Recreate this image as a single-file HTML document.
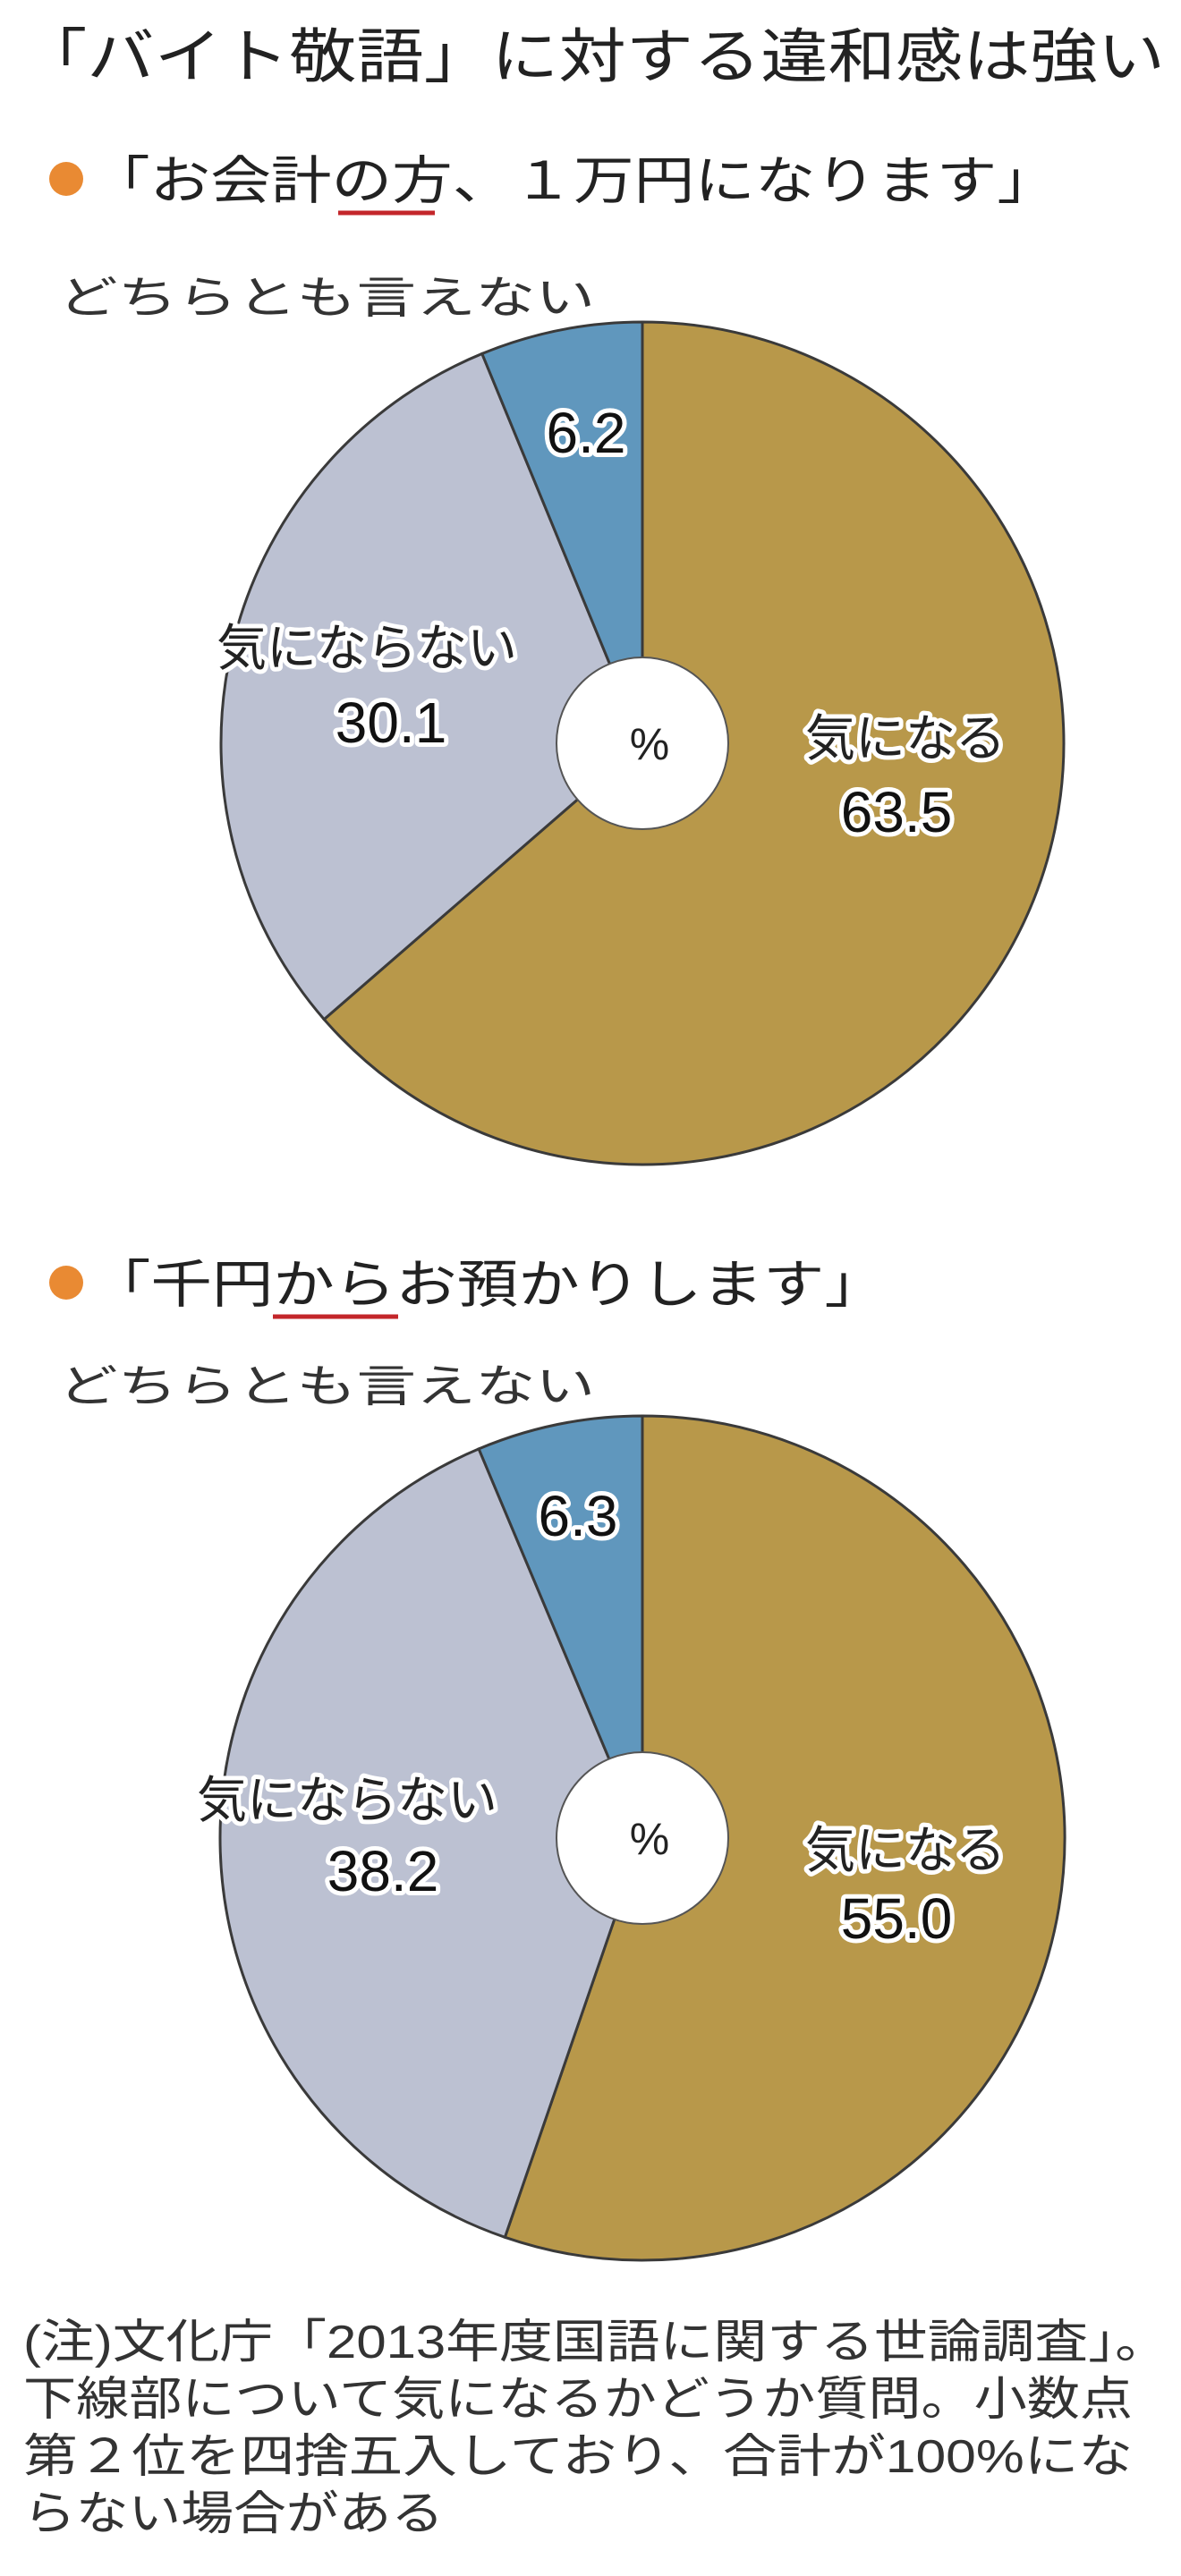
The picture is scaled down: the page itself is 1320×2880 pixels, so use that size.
<!DOCTYPE html>
<html lang="ja"><head><meta charset="utf-8">
<style>
html,body{margin:0;padding:0;background:#fff;}
svg{display:block;}
text{font-family:"Liberation Sans","Noto Sans CJK JP",sans-serif;}
.halo{paint-order:stroke;stroke:#fff;stroke-width:10px;stroke-linejoin:round;}
</style></head>
<body>
<svg id="chart" width="1320" height="2880" viewBox="0 0 1320 2880" xmlns="http://www.w3.org/2000/svg">
  <text x="22" y="86" font-size="66" textLength="1280" lengthAdjust="spacingAndGlyphs" fill="#222">「バイト敬語」に対する違和感は強い</text>

  <circle cx="74" cy="200" r="19" fill="#e98a33"/>
  <text x="100" y="222" font-size="58" textLength="1082" lengthAdjust="spacingAndGlyphs" fill="#222">「お会計の方、１万円になります」</text>
  <line x1="378" y1="238" x2="486" y2="238" stroke="#c3262a" stroke-width="5"/>
  <text x="65" y="350" font-size="50" textLength="600" lengthAdjust="spacingAndGlyphs" fill="#333">どちらとも言えない</text>

  <circle cx="74" cy="1434" r="19" fill="#e98a33"/>
  <text x="100" y="1456" font-size="58" textLength="890" lengthAdjust="spacingAndGlyphs" fill="#222">「千円からお預かりします」</text>
  <line x1="305" y1="1472" x2="445" y2="1472" stroke="#c3262a" stroke-width="5"/>
  <text x="65" y="1567" font-size="50" textLength="600" lengthAdjust="spacingAndGlyphs" fill="#333">どちらとも言えない</text>

  <g id="pie1"></g>
  <g id="pie2"></g>

  <g font-size="52" fill="#333">
    <text x="26" y="2636" textLength="1280" lengthAdjust="spacingAndGlyphs">(注)文化庁「2013年度国語に関する世論調査」。</text>
    <text x="26" y="2700" textLength="1240" lengthAdjust="spacingAndGlyphs">下線部について気になるかどうか質問。小数点</text>
    <text x="26" y="2764" textLength="1240" lengthAdjust="spacingAndGlyphs">第２位を四捨五入しており、合計が100%にな</text>
    <text x="26" y="2828" textLength="470" lengthAdjust="spacingAndGlyphs">らない場合がある</text>
  </g>
</svg>
<script>
const categories = ["気になる", "気にならない", "どちらとも言えない"];
const pie1Values = [63.5, 30.1, 6.2];
const pie2Values = [55.0, 38.2, 6.3];
const pie1Labels = ["63.5", "30.1", "6.2"];
const pie2Labels = ["55.0", "38.2", "6.3"];

const colors = ["#b8984a", "#bcc1d2", "#6097bd"];
const NS = "http://www.w3.org/2000/svg";

function drawPie(gid, values, labels, cx, cy, r, hole, labelPos) {
  const g = document.getElementById(gid);
  const total = values.reduce((a, b) => a + b, 0);
  let acc = 0;
  values.forEach((v, i) => {
    const a0 = acc / total * 2 * Math.PI;
    acc += v;
    const a1 = acc / total * 2 * Math.PI;
    const x0 = cx + r * Math.sin(a0), y0 = cy - r * Math.cos(a0);
    const x1 = cx + r * Math.sin(a1), y1 = cy - r * Math.cos(a1);
    const large = (a1 - a0) > Math.PI ? 1 : 0;
    const p = document.createElementNS(NS, "path");
    p.setAttribute("d", `M${cx},${cy} L${x0},${y0} A${r},${r} 0 ${large} 1 ${x1},${y1} Z`);
    p.setAttribute("fill", colors[i]);
    p.setAttribute("stroke", "#3a3a3a");
    p.setAttribute("stroke-width", "3");
    
    
    g.appendChild(p);
  });
  const h = document.createElementNS(NS, "circle");
  h.setAttribute("cx", cx); h.setAttribute("cy", cy); h.setAttribute("r", hole);
  h.setAttribute("fill", "#fff"); h.setAttribute("stroke", "#555"); h.setAttribute("stroke-width", "2");
  
  
  g.appendChild(h);
  const pc = document.createElementNS(NS, "text");
  pc.setAttribute("x", cx + 8); pc.setAttribute("y", cy + 18);
  pc.setAttribute("font-size", "50"); pc.setAttribute("text-anchor", "middle"); pc.setAttribute("fill", "#222");
  pc.textContent = "%";
  
  
  g.appendChild(pc);
  labelPos.forEach((lp, i) => {
    if (lp.name) {
      const t = document.createElementNS(NS, "text");
      t.setAttribute("x", lp.nx); t.setAttribute("y", lp.ny);
      t.setAttribute("font-size", "56"); t.setAttribute("text-anchor", "middle");
      t.setAttribute("class", "halo"); t.setAttribute("fill", "#222");
      t.textContent = categories[i];
      
      
      g.appendChild(t);
    }
    const t2 = document.createElementNS(NS, "text");
    t2.setAttribute("x", lp.vx); t2.setAttribute("y", lp.vy);
    t2.setAttribute("font-size", "64"); t2.setAttribute("text-anchor", "middle");
    t2.setAttribute("class", "halo"); t2.setAttribute("fill", "#111");
    t2.textContent = labels[i];
    
    
    g.appendChild(t2);
  });
}

drawPie("pie1", pie1Values, pie1Labels, 718, 831, 471, 96, [
  {name: true, nx: 1012, ny: 845, vx: 1002, vy: 930},
  {name: true, nx: 410, ny: 744, vx: 437, vy: 830},
  {name: false, vx: 655, vy: 506}
]);
drawPie("pie2", pie2Values, pie2Labels, 718, 2055, 472, 96, [
  {name: true, nx: 1012, ny: 2088, vx: 1002, vy: 2167},
  {name: true, nx: 388, ny: 2032, vx: 428, vy: 2114},
  {name: false, vx: 646, vy: 1717}
]);
</script>
</body></html>
